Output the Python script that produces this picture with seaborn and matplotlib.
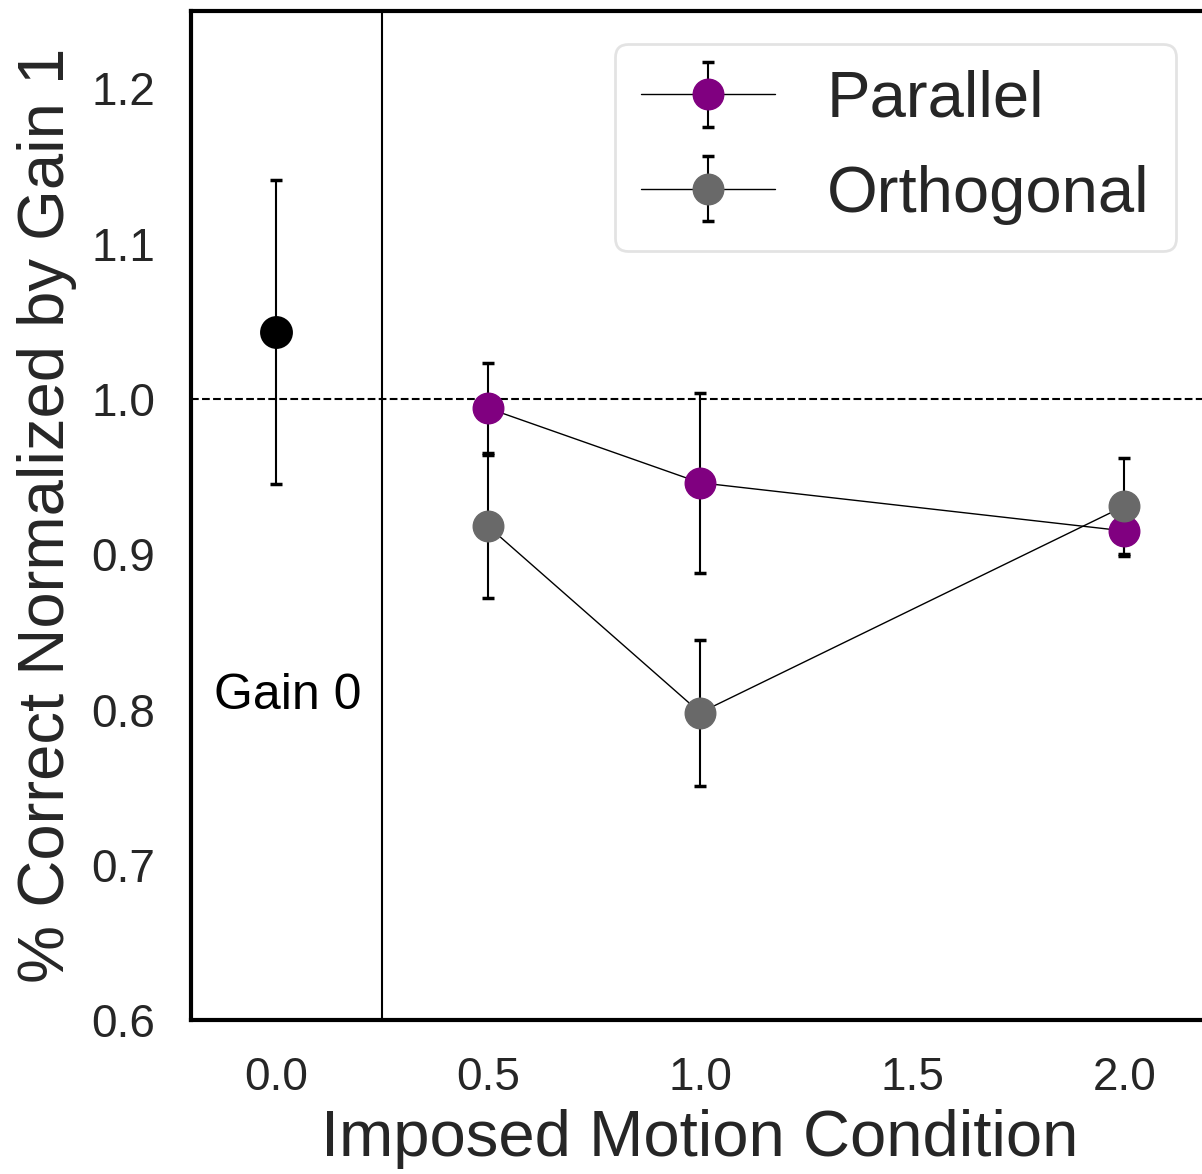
import matplotlib
matplotlib.use("Agg")
import matplotlib.pyplot as plt
import seaborn as sns
import numpy as np

# Data
conditions = [0.5, 1.0, 2.0]
parallel_mean = [0.994, 0.946, 0.915]
parallel_err = [0.029, 0.058, 0.016]
orthogonal_mean = [0.918, 0.798, 0.931]
orthogonal_err = [0.046, 0.047, 0.031]
gain0_x = [0.0]
gain0_mean = [1.043]
gain0_err = [0.098]
series_labels = ["Parallel", "Orthogonal"]
series_colors = ["purple", "dimgray"]
xticks = [0.0, 0.5, 1.0, 1.5, 2.0]
yticks = [0.6, 0.7, 0.8, 0.9, 1.0, 1.1, 1.2]

sns.set_theme(style="white")
plt.rcParams["font.family"] = ["Liberation Sans", "DejaVu Sans"]

fig = plt.figure(figsize=(12.02, 11.74), dpi=100)
ax = fig.add_axes([0.159, 0.131, 0.847, 0.860])

for mean, err, lab, col in zip([parallel_mean, orthogonal_mean],
                               [parallel_err, orthogonal_err],
                               series_labels, series_colors):
    ax.errorbar(conditions, mean, yerr=err, fmt="o-", color="black", lw=1,
                ecolor="black", elinewidth=1.5, capsize=4, capthick=2.5,
                markersize=22, markerfacecolor=col, markeredgecolor=col,
                label=lab, zorder=3)

ax.errorbar(gain0_x, gain0_mean, yerr=gain0_err, fmt="none", ecolor="black",
            elinewidth=1.5, capsize=4, capthick=2.5, zorder=3)
sns.scatterplot(x=gain0_x, y=gain0_mean, color="black", s=560, ax=ax,
                edgecolor="black", linewidth=0, zorder=4)

ax.axhline(1.0, color="black", ls="--", lw=1.5, zorder=1)
ax.axvline(0.25, color="black", lw=1.5, zorder=1)
ax.text(-0.145, 0.809, "Gain 0", fontsize=36, color="black", ha="left", va="center")

ax.set_xlim(-0.2, 2.2)
ax.set_ylim(0.6, 1.25)
ax.set_xticks(xticks)
ax.set_xticklabels([f"{t:.1f}" for t in xticks])
ax.set_yticks(yticks)
ax.set_yticklabels([f"{t:.1f}" for t in yticks])
ax.tick_params(labelsize=33, pad=20)
ax.set_xlabel("Imposed Motion Condition", fontsize=47, labelpad=6)
ax.set_ylabel("% Correct Normalized by Gain 1", fontsize=47, labelpad=10)

for s in ax.spines.values():
    s.set_color("black")
    s.set_linewidth(3)

leg = ax.legend(loc="upper right", fontsize=47, handlelength=2.05,
                handletextpad=0.8, frameon=True, borderpad=0.4,
                labelspacing=0.53, borderaxespad=0,
                bbox_to_anchor=(0.967, 0.967))
leg.get_frame().set_edgecolor("#dddddd")
leg.get_frame().set_linewidth(2)

fig.savefig("out.png", dpi=100)
